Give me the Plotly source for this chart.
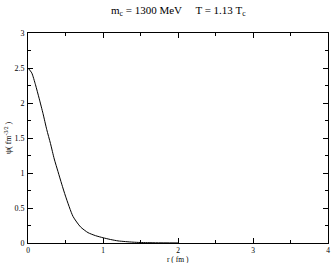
import plotly.graph_objects as go

r_fm = [0, 0.05, 0.1, 0.15, 0.2, 0.25, 0.3, 0.35, 0.4, 0.45, 0.5, 0.6, 0.7, 0.8, 0.9, 1.0, 1.1, 1.2, 1.3, 1.4, 1.5, 1.7, 2.0]
psi = [2.5, 2.43, 2.26, 2.06, 1.85, 1.62, 1.42, 1.2, 1.02, 0.84, 0.67, 0.38, 0.23, 0.148, 0.105, 0.075, 0.05, 0.03, 0.02, 0.012, 0.007, 0.003, 0.001]

x_ticks = [0, 1, 2, 3, 4]
y_ticks = [0, 0.5, 1, 1.5, 2, 2.5, 3]
y_tick_labels = ["0", "0.5", "1", "1.5", "2", "2.5", "3"]

serif = "Liberation Serif"

fig = go.Figure()
fig.add_trace(go.Scatter(x=r_fm, y=psi, mode="lines", line=dict(color="black", width=1, shape="spline", smoothing=0.6), showlegend=False, hoverinfo="skip"))

axis_common = dict(
    showgrid=False, zeroline=False, showline=True, linecolor="black", linewidth=1,
    mirror="ticks", ticks="inside", ticklen=5, tickcolor="black", tickwidth=1,
    automargin=False,
)
fig.update_xaxes(range=[0, 4], tickvals=x_ticks, ticktext=[str(v) for v in x_ticks],
                 minor=dict(dtick=0.5, ticks="inside", ticklen=3, tickcolor="black", showgrid=False),
                 ticklabelstandoff=0, tickfont=dict(family=serif, size=7.5, color="black"), **axis_common)
fig.update_yaxes(range=[0, 3], tickvals=y_ticks, ticktext=y_tick_labels,
                 minor=dict(dtick=0.25, ticks="inside", ticklen=3, tickcolor="black", showgrid=False),
                 ticklabelstandoff=1, tickfont=dict(family=serif, size=8, color="black"), **axis_common)

fig.add_annotation(text="m<sub>c</sub> = 1300 MeV     T = 1.13 T<sub>c</sub>", xref="paper", yref="paper",
                   x=0.5, y=1, yanchor="middle", xanchor="center", yshift=22, showarrow=False,
                   font=dict(family=serif, size=11, color="black"))
fig.add_annotation(text="r ( fm )", xref="paper", yref="paper", x=0.5, y=0, yanchor="middle", xanchor="center",
                   yshift=-16.5, showarrow=False, font=dict(family=serif, size=7.5, color="black"))
fig.add_annotation(text="ψ( fm<sup>-3/2</sup> )", xref="paper", yref="paper", x=0, y=0.5,
                   xanchor="center", yanchor="middle", xshift=-20,
                   textangle=-90, showarrow=False, font=dict(family=serif, size=8, color="black"))

fig.update_layout(width=332, height=263, autosize=False,
                  margin=dict(l=28, r=4, t=33, b=20),
                  paper_bgcolor="white", plot_bgcolor="white")
fig.write_html("out.html", config={"displayModeBar": False},
               post_script="document.body.style.margin='0';document.body.style.overflow='hidden';")
